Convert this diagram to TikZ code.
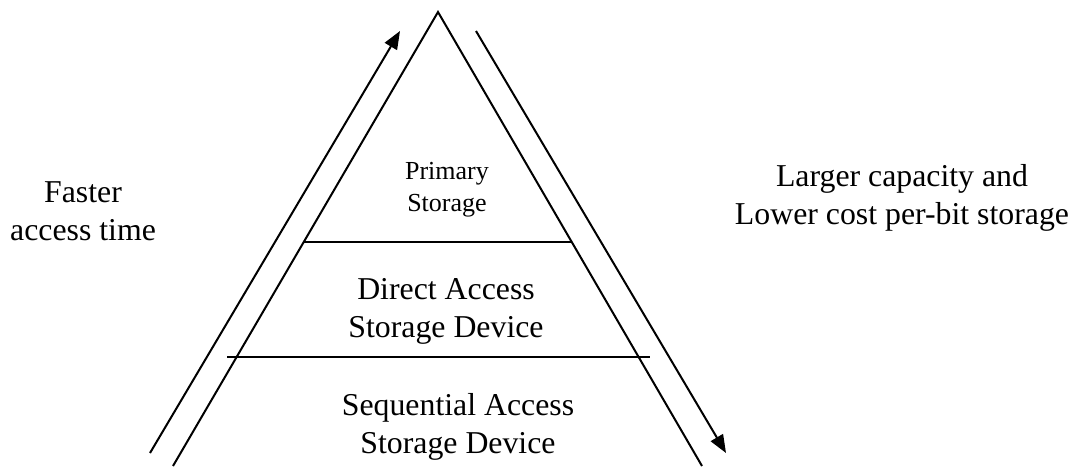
\documentclass[tikz,border=0pt]{standalone}
\usepackage{fontspec}
\setmainfont{Liberation Serif}
\usetikzlibrary{arrows.meta}
\begin{document}
\begin{tikzpicture}[x=0.5pt,y=-0.5pt,line width=1pt,
  big/.style={align=center,inner sep=0pt,font=\fontsize{15.9}{19}\selectfont},
  small/.style={align=center,inner sep=0pt,font=\fontsize{13}{16}\selectfont},
  tip/.style={-{Triangle[length=9pt,width=7pt]}}]
\useasboundingbox (0,0) rectangle (1071,466);
\coordinate (top) at (438,12);
\coordinate (L) at (173,466);
\coordinate (R) at (702,466);
\coordinate (up1) at (150,453);
\coordinate (up2) at (400,31);
\coordinate (dn1) at (476,31);
\coordinate (dn2) at (726,453);
\coordinate (a1) at (304,242);
\coordinate (a2) at (572,242);
\coordinate (b1) at (227,357);
\coordinate (b2) at (650,357);
\node[small] (P) at (447,190){Primary\\Storage};
\node[big] (D) at (446,311.6){Direct Access\\Storage Device};
\node[big] (S) at (458,426.6){Sequential Access\\Storage Device};
\node[big] (F) at (83,211){Faster\\access time};
\node[big] (C) at (902,197.6){Larger capacity and\\Lower cost per-bit storage};
\draw (L) -- (top) -- (R);
\draw (a1) -- (a2);
\draw (b1) -- (b2);
\draw [tip](up1) -- (up2);
\draw [tip](dn1) -- (dn2);
\end{tikzpicture}
\end{document}
